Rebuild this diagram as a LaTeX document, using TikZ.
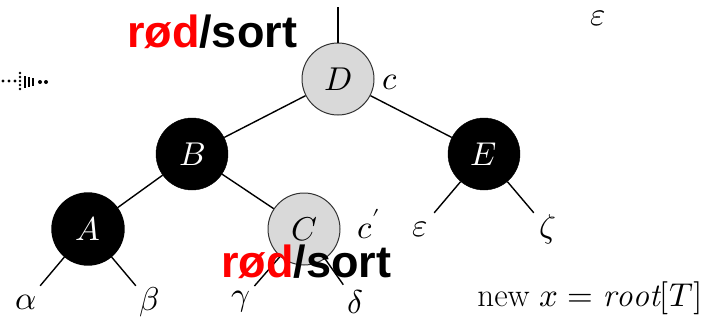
\documentclass[tikz,border=0pt]{standalone}
\usepackage{fontspec}
\usepackage{unicode-math}
\setmathfont{Latin Modern Math}
\newfontfamily\rsfont{Liberation Sans}
\definecolor{stipple}{gray}{0.85}

\begin{document}
\begin{tikzpicture}
	[x=1pt,y=-1pt,
	every node/.style={font=\fontsize{33}{38}\selectfont},
	red node/.style={circle,draw=black!80,line width=1pt,fill=stipple,minimum size=72pt,inner sep=0pt},
	black node/.style={circle,draw,fill=black,text=white,minimum size=72pt,inner sep=0pt},
	leaf/.style={circle,minimum size=42pt,inner sep=0pt},
	rsnote/.style={font=\fontsize{45}{45}\selectfont\rsfont\bfseries},
	edge from parent/.style={draw,line width=1.4pt},
	level distance=75pt,
	level 1/.style={sibling distance=292pt},
	level 2/.style={sibling distance=216pt},
	level 3/.style={sibling distance=123pt,level distance=73pt}]
	\useasboundingbox (0,0) rectangle (711,324);

	% the dotted arrow on the left
	\foreach \x in {3,9,15} \fill (\x,81) circle (1.6);
	\foreach \y in {73,77,81,85,89} \fill (20,\y) circle (1.3);
	\fill (24,76) rectangle (26,88);
	\fill (28,77) rectangle (30,87);
	\fill (32,78) rectangle (34,86);
	\fill (40,82) circle (2);
	\fill (46,82) circle (2);

	\coordinate (top) at (338,7);
	\node[red node] (D) at (338,79) {$D$}
	child {node[black node] (B) {$B$}
		child[xshift=4pt] {node[black node] (A) {$A$}
			child {node[leaf] (alpha) {$\alpha$}}
			child {node[leaf] (beta) {$\beta$}}
		}
		child[xshift=4pt] {node[red node] (C) {$C$}
			child[sibling distance=115pt,xshift=-6pt] {node[leaf] (gamma) {$\gamma$}}
			child[sibling distance=115pt,xshift=-6pt] {node[leaf] (delta) {$\delta$}}
		}
	}
	child {node[black node] (E) {$E$}
		child[sibling distance=127pt] {node[leaf] (eps) {$\varepsilon$}}
		child[sibling distance=127pt] {node[leaf] (zeta) {$\zeta$}}
	};
	\draw[line width=1.4pt] (D) -- (top);

	\node (cD) at (390,82) {$c$};
	\node (cC) at (369,224) {$c^{\prime}$};
	\node (epsT) at (598,18) {$\varepsilon$};
	\node (newx) at (590,298) {new $x=\mathit{root}[T]$};

	\node[rsnote] (rs1) at (212,32) {\textcolor{red}{rød}/sort};
	\node[rsnote] (rs2) at (306,262) {\textcolor{red}{rød}/sort};
\end{tikzpicture}
\end{document}
